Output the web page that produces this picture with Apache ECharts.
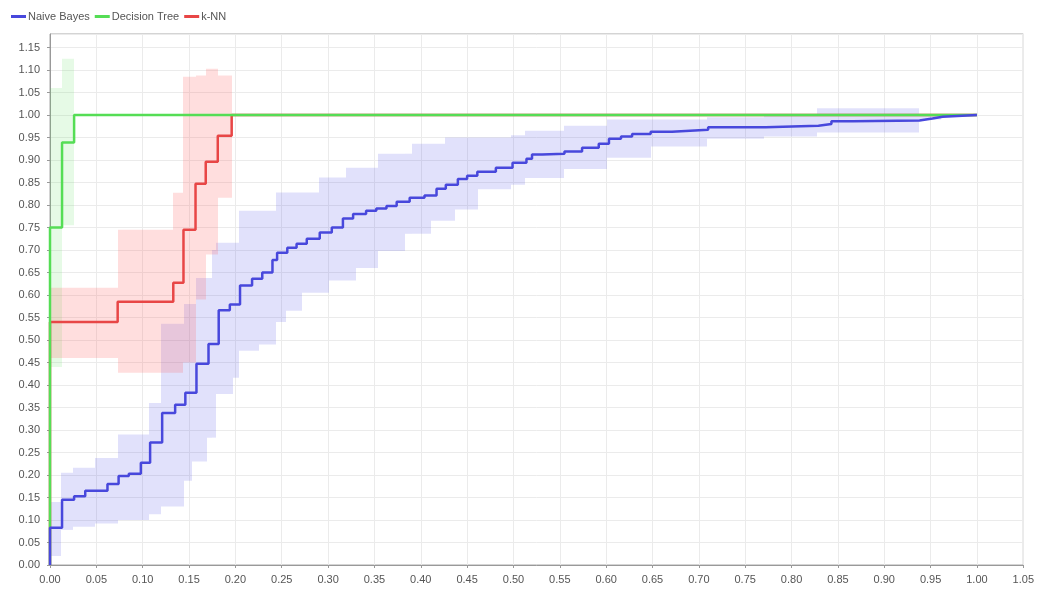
<!DOCTYPE html>
<html>
<head>
<meta charset="utf-8">
<script src="https://cdn.jsdelivr.net/npm/echarts@6/dist/echarts.min.js"></script>
<style>
    html, body { margin: 0; padding: 0; background: #fff; }
    #main { width: 1037px; height: 592px; }
</style>
</head>
<body>
<div id="main"></div>
<script type="text/javascript">
    // ROC points [fpr, tpr], drawn as steps
    var nbLine = [[0, 0], [0, 0.083], [0.013, 0.145], [0.026, 0.153], [0.038, 0.165], [0.062, 0.18], [0.074, 0.198],
        [0.085, 0.203], [0.098, 0.227], [0.108, 0.272], [0.121, 0.338], [0.135, 0.356], [0.146, 0.383], [0.158, 0.447],
        [0.171, 0.491], [0.182, 0.566], [0.194, 0.579], [0.205, 0.621], [0.218, 0.636], [0.229, 0.65], [0.24, 0.678],
        [0.245, 0.694], [0.256, 0.705], [0.266, 0.714], [0.277, 0.725], [0.291, 0.739], [0.304, 0.75], [0.316, 0.77],
        [0.327, 0.78], [0.341, 0.787], [0.352, 0.792], [0.363, 0.798], [0.374, 0.807], [0.388, 0.816], [0.404, 0.821],
        [0.417, 0.836], [0.427, 0.845], [0.44, 0.858], [0.45, 0.865], [0.461, 0.874], [0.481, 0.883], [0.499, 0.894],
        [0.514, 0.903], [0.52, 0.912], [0.531, 0.914], [0.555, 0.919], [0.574, 0.927], [0.592, 0.936], [0.603, 0.947],
        [0.616, 0.952], [0.628, 0.958], [0.648, 0.963], [0.671, 0.967], [0.71, 0.973], [0.772, 0.976], [0.829, 0.98],
        [0.843, 0.986], [0.866, 0.988], [0.938, 0.992], [0.952, 0.996], [0.963, 1.0], [1.0, 1.0]];
    var dtLine = [[0, 0], [0, 0.75], [0.013, 0.939], [0.026, 1.0], [1.0, 1.0]];
    var knnLine = [[0, 0], [0, 0.54], [0.073, 0.585], [0.133, 0.627], [0.144, 0.745], [0.157, 0.847],
        [0.168, 0.896], [0.181, 0.954], [0.196, 1.0], [1.0, 1.0]];

    // std bands [x from, x to, low, high]
    var nbBand = [[0, 0.012, 0.02, 0.14], [0.012, 0.025, 0.078, 0.205], [0.025, 0.049, 0.085, 0.216],
        [0.049, 0.073, 0.092, 0.238], [0.073, 0.107, 0.10, 0.29], [0.107, 0.12, 0.113, 0.36],
        [0.12, 0.145, 0.13, 0.536], [0.145, 0.153, 0.187, 0.58], [0.153, 0.158, 0.23, 0.58],
        [0.158, 0.169, 0.23, 0.638], [0.169, 0.175, 0.283, 0.638], [0.175, 0.179, 0.283, 0.70],
        [0.179, 0.197, 0.38, 0.716], [0.197, 0.204, 0.416, 0.716], [0.204, 0.226, 0.476, 0.787],
        [0.226, 0.244, 0.49, 0.787], [0.244, 0.255, 0.54, 0.828], [0.255, 0.272, 0.565, 0.828],
        [0.272, 0.29, 0.605, 0.828], [0.29, 0.301, 0.605, 0.861], [0.301, 0.319, 0.632, 0.861],
        [0.319, 0.33, 0.632, 0.883], [0.33, 0.354, 0.66, 0.883], [0.354, 0.383, 0.698, 0.914],
        [0.383, 0.39, 0.736, 0.914], [0.39, 0.411, 0.736, 0.936], [0.411, 0.426, 0.765, 0.936],
        [0.426, 0.437, 0.765, 0.95], [0.437, 0.462, 0.79, 0.95], [0.462, 0.497, 0.835, 0.95],
        [0.497, 0.512, 0.845, 0.955], [0.512, 0.555, 0.86, 0.965], [0.555, 0.601, 0.88, 0.976],
        [0.601, 0.648, 0.905, 0.99], [0.648, 0.709, 0.93, 0.99], [0.709, 0.77, 0.947, 0.995],
        [0.77, 0.827, 0.952, 1.0], [0.827, 0.938, 0.961, 1.015], [0.938, 0.961, 0.99, 1.0]];
    var dtBand = [[0, 0.013, 0.44, 1.06], [0.013, 0.026, 0.755, 1.125]];
    var knnBand = [[0, 0.073, 0.46, 0.616], [0.073, 0.133, 0.427, 0.745], [0.133, 0.144, 0.427, 0.827],
        [0.144, 0.157, 0.45, 1.085], [0.157, 0.168, 0.59, 1.088], [0.168, 0.181, 0.69, 1.103],
        [0.181, 0.196, 0.816, 1.088]];

    var names = ['Naive Bayes', 'Decision Tree', 'k-NN'];

    var myChart = echarts.init(document.getElementById('main'));

    function band(data, fill) {
        return {
            type: 'custom',
            data: data,
            encode: {x: [0, 1], y: [2, 3]},
            clip: true,
            silent: true,
            renderItem: function (params, api) {
                var a = api.coord([api.value(0), api.value(3)]);
                var b = api.coord([api.value(1), api.value(2)]);
                var x0 = Math.round(a[0]), x1 = Math.round(b[0]);
                return {
                    type: 'rect',
                    shape: {x: x0, y: a[1], width: x1 - x0, height: b[1] - a[1]},
                    style: {fill: fill}
                };
            }
        };
    }

    function curve(name, data, color) {
        return {
            name: name,
            type: 'line',
            step: 'end',
            symbol: 'none',
            data: data,
            lineStyle: {color: color, width: 2.5},
            itemStyle: {color: color}
        };
    }

    var axisFont = {fontFamily: 'Liberation Sans', fontSize: 11, color: '#555'};

    var option = {
        animation: false,
        textStyle: {fontFamily: 'Liberation Sans'},
        legend: {
            data: names,
            left: 6,
            top: 6,
            icon: 'rect',
            itemWidth: 15,
            itemHeight: 3,
            itemGap: 5,
            textStyle: {fontSize: 11, color: '#555', padding: [0, 0, 0, -3]}
        },
        grid: {
            left: 50,
            right: 9,
            top: 34,
            bottom: 27,
            show: true,
            borderColor: '#a8a8a8',
            borderWidth: 1
        },
        xAxis: {
            type: 'value',
            min: 0,
            max: 1.05,
            interval: 0.05,
            offset: 4,
            axisLine: {show: true, lineStyle: {color: '#999'}},
            axisTick: {show: true, length: 3, lineStyle: {color: '#999'}},
            axisLabel: Object.assign({margin: 5, formatter: function (v) { return v.toFixed(2); }}, axisFont),
            splitLine: {show: true, lineStyle: {color: '#ebebeb'}}
        },
        yAxis: {
            type: 'value',
            min: 0,
            max: 1.18,
            interval: 0.05,
            offset: 5,
            axisLine: {show: true, lineStyle: {color: '#999'}},
            axisTick: {show: true, length: 3, lineStyle: {color: '#999'}},
            axisLabel: Object.assign({margin: 5, showMaxLabel: false, formatter: function (v) { return v.toFixed(2); }}, axisFont),
            splitLine: {show: true, lineStyle: {color: '#ebebeb'}}
        },
        series: [
            band(nbBand, 'rgba(90,90,235,0.18)'),
            band(dtBand, 'rgba(90,220,90,0.15)'),
            band(knnBand, 'rgba(255,90,90,0.2)'),
            curve(names[2], knnLine, '#e84646'),
            curve(names[1], dtLine, '#55dd55'),
            curve(names[0], nbLine, '#4848dc')
        ]
    };
    myChart.setOption(option);
</script>
</body>
</html>
